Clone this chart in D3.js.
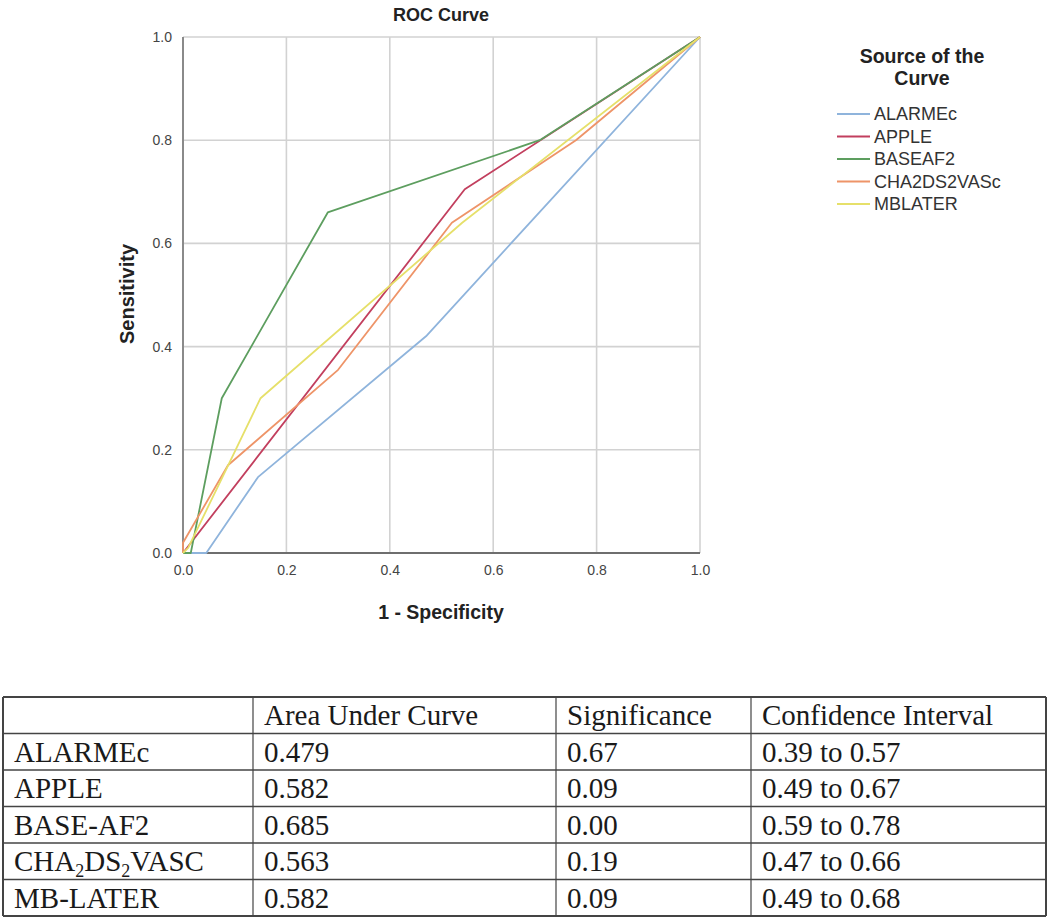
<!DOCTYPE html>
<html>
<head>
<meta charset="utf-8">
<script src="https://cdn.jsdelivr.net/npm/d3@7"></script>
<style>
  html, body { margin: 0; padding: 0; background: #fff; }
  svg { display: block; }
</style>
</head>
<body>
<svg id="chart" width="1050" height="920"></svg>
<script>
// ---- Data ----
const seriesNames = ["ALARMEc", "APPLE", "BASEAF2", "CHA2DS2VASc", "MBLATER"];
const seriesColors = ["#8fb4dc", "#c23f5e", "#5d9e5f", "#ee9468", "#e6e06a"];

const alarmecX = [0, 0.045, 0.145, 0.47, 1];
const alarmecY = [0, 0, 0.147, 0.42, 1];
const appleX = [0, 0.545, 1];
const appleY = [0, 0.705, 1];
const baseaf2X = [0, 0.015, 0.075, 0.28, 0.69, 1];
const baseaf2Y = [0, 0, 0.30, 0.66, 0.80, 1];
const chaX = [0, 0, 0.087, 0.30, 0.52, 0.76, 1];
const chaY = [0, 0.02, 0.17, 0.355, 0.64, 0.80, 1];
const mblaterX = [0, 0.01, 0.085, 0.15, 0.54, 1];
const mblaterY = [0, 0.01, 0.165, 0.30, 0.64, 1];

const xTicks = [0, 0.2, 0.4, 0.6, 0.8, 1.0];
const yTicks = [0, 0.2, 0.4, 0.6, 0.8, 1.0];

// Table
const tableHeader = ["", "Area Under Curve", "Significance", "Confidence Interval"];
const tableRowNames = ["ALARMEc", "APPLE", "BASE-AF2", "CHA2DS2VASC", "MB-LATER"];
const tableAUC = ["0.479", "0.582", "0.685", "0.563", "0.582"];
const tableSig = ["0.67", "0.09", "0.00", "0.19", "0.09"];
const tableCI = ["0.39 to 0.57", "0.49 to 0.67", "0.59 to 0.78", "0.47 to 0.66", "0.49 to 0.68"];

// ---- Drawing ----
const svg = d3.select("#chart");
const plot = { left: 183, right: 700, top: 37, bottom: 553 };

const x = d3.scaleLinear().domain([0, 1]).range([plot.left, plot.right]);
const y = d3.scaleLinear().domain([0, 1]).range([plot.bottom, plot.top]);

// gridlines
const grid = svg.append("g");
grid.selectAll("line.v").data(xTicks.slice(1)).join("line")
  .attr("x1", d => x(d)).attr("x2", d => x(d))
  .attr("y1", plot.top).attr("y2", plot.bottom)
  .attr("stroke", "#d2d2d2").attr("stroke-width", 1.6);
grid.selectAll("line.h").data(yTicks.slice(1)).join("line")
  .attr("x1", plot.left).attr("x2", plot.right)
  .attr("y1", d => y(d)).attr("y2", d => y(d))
  .attr("stroke", "#d2d2d2").attr("stroke-width", 1.6);

// axes lines
svg.append("line").attr("x1", plot.left).attr("x2", plot.left)
  .attr("y1", plot.top).attr("y2", plot.bottom)
  .attr("stroke", "#8a8a8a").attr("stroke-width", 2);
svg.append("line").attr("x1", plot.left).attr("x2", plot.right)
  .attr("y1", plot.bottom).attr("y2", plot.bottom)
  .attr("stroke", "#6e6e6e").attr("stroke-width", 2);

const sans = "Liberation Sans, Arial, sans-serif";

// tick labels via axes
const xAxis = d3.axisBottom(x).tickValues(xTicks).tickFormat(d3.format(".1f")).tickSize(0).tickPadding(12);
const yAxis = d3.axisLeft(y).tickValues(yTicks).tickFormat(d3.format(".1f")).tickSize(0).tickPadding(11);
const gx = svg.append("g").attr("transform", `translate(0,${plot.bottom})`).call(xAxis);
const gy = svg.append("g").attr("transform", `translate(${plot.left},0)`).call(yAxis);
[gx, gy].forEach(g => {
  g.select(".domain").remove();
  g.selectAll("text").attr("font-family", sans)
    .attr("font-size", 14).attr("fill", "#444");
});

// lines
const seriesX = [alarmecX, appleX, baseaf2X, chaX, mblaterX];
const seriesY = [alarmecY, appleY, baseaf2Y, chaY, mblaterY];
const line = d3.line().x(d => x(d[0])).y(d => y(d[1]));
seriesNames.forEach((name, i) => {
  const pts = seriesX[i].map((v, j) => [v, seriesY[i][j]]);
  svg.append("path").datum(pts)
    .attr("d", line).attr("fill", "none")
    .attr("stroke", seriesColors[i]).attr("stroke-width", 1.8)
    .attr("stroke-linejoin", "round");
});

// title & axis labels
svg.append("text").attr("x", 441).attr("y", 21).attr("text-anchor", "middle")
  .attr("font-family", sans).attr("font-size", 18).attr("font-weight", "bold").attr("fill", "#222")
  .text("ROC Curve");
svg.append("text").attr("x", 441).attr("y", 619).attr("text-anchor", "middle")
  .attr("font-family", sans).attr("font-size", 19.5).attr("font-weight", "bold").attr("fill", "#222")
  .text("1 - Specificity");
svg.append("text").attr("transform", "translate(134,294) rotate(-90)").attr("text-anchor", "middle")
  .attr("font-family", sans).attr("font-size", 20).attr("font-weight", "bold").attr("fill", "#222")
  .text("Sensitivity");

// legend
const lg = svg.append("g");
lg.append("text").attr("x", 922).attr("y", 63).attr("text-anchor", "middle")
  .attr("font-family", sans).attr("font-size", 19.5).attr("font-weight", "bold").attr("fill", "#222")
  .text("Source of the");
lg.append("text").attr("x", 922).attr("y", 85).attr("text-anchor", "middle")
  .attr("font-family", sans).attr("font-size", 19.5).attr("font-weight", "bold").attr("fill", "#222")
  .text("Curve");
const legY = d3.scalePoint().domain(seriesNames).range([114, 204]);
seriesNames.forEach((name, i) => {
  lg.append("line").attr("x1", 837).attr("x2", 870)
    .attr("y1", legY(name)).attr("y2", legY(name))
    .attr("stroke", seriesColors[i]).attr("stroke-width", 1.8);
  lg.append("text").attr("x", 874).attr("y", legY(name)).attr("dy", "0.36em")
    .attr("font-family", sans).attr("font-size", 18).attr("fill", "#333")
    .text(name);
});

// table
const tb = svg.append("g");
const colX = [3, 253, 556, 751, 1046];
const rowY = d3.range(7).map(i => 697 + i * 36.5);
const serif = "Liberation Serif, Times New Roman, serif";
rowY.forEach((ry, i) => {
  tb.append("line").attr("x1", colX[0]).attr("x2", colX[4])
    .attr("y1", ry).attr("y2", ry)
    .attr("stroke", "#444").attr("stroke-width", (i === 0 || i === 6) ? 2 : 1.6);
});
colX.forEach((cx, i) => {
  tb.append("line").attr("x1", cx).attr("x2", cx)
    .attr("y1", rowY[0]).attr("y2", rowY[6])
    .attr("stroke", "#444").attr("stroke-width", (i === 0 || i === 4) ? 2 : 1.2);
});
const fs = 29;
const cellText = (col, row, txt) => tb.append("text")
  .attr("x", colX[col] + 11).attr("y", (rowY[row] + rowY[row + 1]) / 2).attr("dy", "0.35em")
  .attr("font-family", serif).attr("font-size", fs).attr("fill", "#1a1a1a")
  .text(txt);
tableHeader.forEach((h, c) => { if (h) cellText(c, 0, h); });
tableRowNames.forEach((n, r) => {
  if (n === "CHA2DS2VASC") {
    const t = tb.append("text")
      .attr("x", colX[0] + 11).attr("y", (rowY[r + 1] + rowY[r + 2]) / 2).attr("dy", "0.35em")
      .attr("font-family", serif).attr("font-size", fs).attr("fill", "#1a1a1a");
    t.append("tspan").text("CHA");
    t.append("tspan").attr("font-size", 18).attr("dy", 6).text("2");
    t.append("tspan").attr("dy", -6).text("DS");
    t.append("tspan").attr("font-size", 18).attr("dy", 6).text("2");
    t.append("tspan").attr("dy", -6).text("VASC");
  } else {
    cellText(0, r + 1, n);
  }
  cellText(1, r + 1, tableAUC[r]);
  cellText(2, r + 1, tableSig[r]);
  cellText(3, r + 1, tableCI[r]);
});
</script>
</body>
</html>
